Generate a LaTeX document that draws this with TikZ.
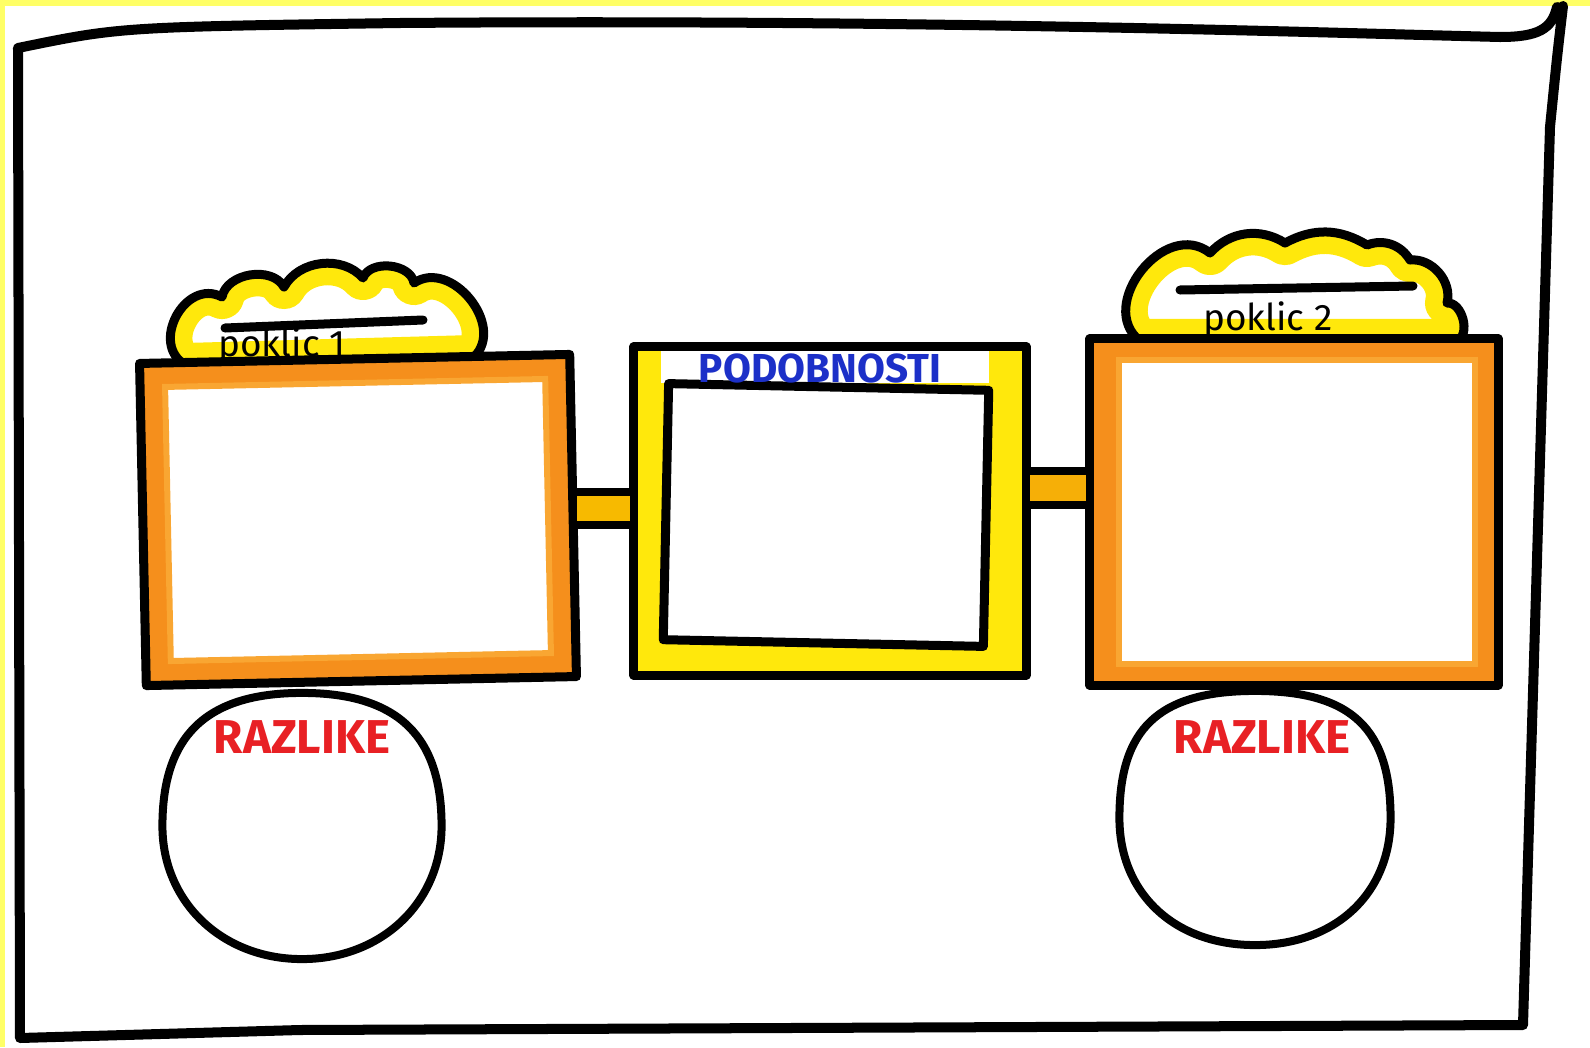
\documentclass[tikz,border=0pt]{standalone}
\usepackage{fontspec}
\setmainfont{Fira Sans}
\usepackage{tikz}
\usetikzlibrary{positioning,shapes.geometric}

\definecolor{paper}{RGB}{255,255,102}
\definecolor{marker}{RGB}{245,143,28}
\definecolor{markerlight}{RGB}{249,166,50}
\definecolor{lemon}{RGB}{255,232,12}
\definecolor{amber}{RGB}{247,186,0}
\definecolor{penred}{RGB}{232,32,36}
\definecolor{penblue}{RGB}{28,48,200}

% lids of the two calls (flat side hidden under the boxes)
\newcommand{\lidone}{(186,682) to[bend left=90, looseness=1.4] (222,750) to[bend left=70] (284,760) to[bend left=55] (363,769) to[bend left=75] (414,764) to[bend left=85, looseness=1.2] (474,690) -- cycle}
\newcommand{\lidtwo}{(1140,706) to[bend left=90, looseness=1.3] (1210,794) to[bend left=40] (1285,804) to[bend left=30] (1367,802) to[bend left=40] (1410,787) to[bend left=55] (1447,744) to[bend left=80] (1457,706) -- cycle}
% hand drawn round blob through the anchors of a node
\newcommand{\blob}[1]{(#1.north) .. controls +(98,0) and +(0,88) .. (#1.east) .. controls +(0,-76) and +(80,0) .. (#1.south) .. controls +(-80,0) and +(0,-76) .. (#1.west) .. controls +(0,88) and +(-98,0) .. (#1.north) -- cycle}

\begin{document}
\begin{tikzpicture}[
  x=0.01cm, y=0.01cm,
  ink/.style={line width=0.9mm, line cap=round, line join=round},
  glow/.style={draw=lemon, line width=4.4mm, line join=round},
  tray/.style={draw, ink, fill=marker, rectangle, inner sep=0pt, outer sep=0pt},
  slot/.style={fill=white, draw=markerlight, line width=0.6mm, rectangle, inner sep=0pt, outer sep=0pt},
  pane/.style={draw, ink, fill=lemon, rectangle, inner sep=0pt, outer sep=0pt},
  diff/.style={rectangle, inner sep=0pt, outer sep=0pt},
  bar/.style={draw, ink, line width=0.8mm, fill=amber},
  lidtext/.style={inner sep=0pt, font=\fontsize{10.5}{12}\selectfont},
  caption/.style={inner sep=0pt, font=\bfseries}
]
% page
\fill[paper] (0,0) rectangle (1590,1047);
\fill[white] (5,0) rectangle (1590,1041);
\useasboundingbox (0,0) rectangle (1590,1047);

% hand drawn frame
\draw[ink, line width=1mm] (1563,1041) .. controls (1557,990) .. (1550,920) -- (1523,22) -- (300,17) -- (20,9) -- (18,999)
  .. controls (120,1020) .. (400,1024) .. controls (900,1028) and (1300,1015) .. (1500,1010)
  .. controls (1538,1010) and (1552,1018) .. (1557,1040);

% lids
\fill[white] \lidone;
\begin{scope}
  \clip \lidone;
  \draw[glow] \lidone;
\end{scope}
\draw[ink] \lidone;
\draw[ink] (225,719) -- (423,727);
\node[lidtext, anchor=base] (lid1) at (282,691) {poklic 1};

\fill[white] \lidtwo;
\begin{scope}
  \clip \lidtwo;
  \draw[glow] \lidtwo;
\end{scope}
\draw[ink] \lidtwo;
\draw[ink] (1180,757) -- (1413,761);
\node[lidtext, anchor=base] (lid2) at (1268,717) {poklic 2};

% differences
\node[diff, minimum width=2.79cm, minimum height=2.66cm] (diff1) at (302,221) {};
\node[diff, minimum width=2.71cm, minimum height=2.54cm] (diff2) at (1255,229) {};
\draw[ink, line width=0.8mm, fill=white] \blob{diff1};
\draw[ink, line width=0.8mm, fill=white] \blob{diff2};

% the two calls
\node[tray, rotate=1.2, minimum width=4.30cm, minimum height=3.22cm] (call1) at (358,527) {};
\node[slot, rotate=1.2, minimum width=3.80cm, minimum height=2.74cm] (call1in) at (call1.center) {};
\node[tray, minimum width=4.08cm, minimum height=3.46cm] (call2) at (1294,535) {};
\node[slot, minimum width=3.55cm, minimum height=3.04cm] (call2in) at (1297,535) {};

% similarities
\node[pane, minimum width=3.92cm, minimum height=3.28cm] (same) at (830,536) {};
\fill[white] ([xshift=.27cm,yshift=-.045cm]same.north west) rectangle ([xshift=-.37cm,yshift=-.36cm]same.north east);
\node[draw, ink, fill=white, rectangle, inner sep=0pt, rotate=-1.2, minimum width=3.20cm, minimum height=2.56cm] (samein) at (826,532) {};

% links
\draw[bar] ([yshift=.235cm]call1.east) rectangle ([yshift=-.135cm]same.west);
\draw[bar, fill=amber!75!marker] ([yshift=.395cm]same.east) rectangle ([yshift=.07cm]call2.west);

% labels
\node[caption, text=penblue, font=\bfseries\fontsize{11.5}{14}\selectfont, below=0.06cm of same.north, xshift=-0.1cm] (same-lbl) {PODOBNOSTI};
\node[caption, text=penred, font=\bfseries\fontsize{13.5}{16}\selectfont, below=0.27cm of diff1.north] (diff1-lbl) {RAZLIKE};
\node[caption, text=penred, font=\bfseries\fontsize{13.5}{16}\selectfont, below=0.29cm of diff2.north, xshift=0.07cm] (diff2-lbl) {RAZLIKE};
\end{tikzpicture}
\end{document}
